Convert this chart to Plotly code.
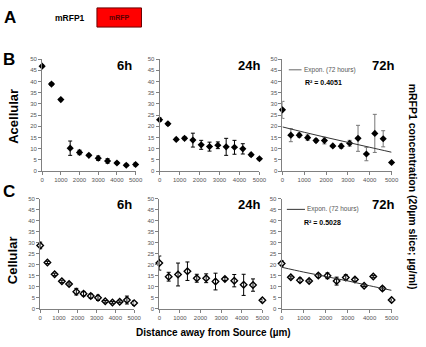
import plotly.graph_objects as go

# ---------------- data ----------------
x_b6 = [0, 500, 1000, 1500, 2000, 2500, 3000, 3500, 4000, 4500, 5000]
y_b6 = [46.8, 38.8, 31.9, 10.2, 8.3, 7.0, 5.7, 4.5, 3.6, 2.6, 2.9]
e_b6 = [0.6, 0.6, 0.5, 3.2, 1.0, 0.5, 1.0, 1.0, 0.5, 0.5, 0.7]

x_b24 = [0, 417, 833, 1250, 1667, 2083, 2500, 2917, 3333, 3750, 4167, 4583, 5000]
y_b24 = [22.9, 21.1, 14.1, 14.6, 13.8, 11.7, 10.9, 11.5, 10.8, 10.6, 9.9, 7.3, 5.5]
e_b24 = [0.8, 0.6, 0.5, 0.6, 3.1, 2.0, 2.0, 1.5, 3.8, 3.1, 2.3, 0.6, 0.5]

x_b72 = [0, 385, 769, 1154, 1538, 1923, 2308, 2692, 3077, 3462, 3846, 4231, 4615, 5000]
y_b72 = [27.3, 16.0, 16.0, 14.9, 13.6, 13.6, 11.2, 11.1, 12.4, 14.6, 7.6, 16.8, 14.4, 3.8]
e_b72 = [3.8, 2.9, 0.9, 1.2, 0.8, 1.5, 0.5, 1.0, 1.3, 5.8, 3.0, 8.5, 3.6, 0.5]
trend_x_b72 = [0, 1000, 2000, 3000, 4000, 5000]
trend_y_b72 = [19.7, 17.3, 15.0, 12.8, 10.6, 8.4]

x_c6 = [0, 385, 769, 1154, 1538, 1923, 2308, 2692, 3077, 3462, 3846, 4231, 4615, 5000]
y_c6 = [28.7, 21.0, 15.6, 12.4, 11.2, 7.7, 6.8, 5.7, 4.9, 3.3, 2.8, 3.1, 3.9, 2.5]
e_c6 = [1.5, 0.5, 0.5, 0.5, 0.5, 1.5, 1.0, 1.0, 1.2, 0.4, 0.4, 0.4, 1.8, 1.0]

x_c24 = [0, 455, 909, 1364, 1818, 2273, 2727, 3182, 3636, 4091, 4545, 5000]
y_c24 = [20.7, 14.5, 15.5, 17.0, 13.8, 13.8, 12.3, 13.5, 12.7, 10.8, 10.7, 3.8]
e_c24 = [3.2, 2.0, 5.2, 4.2, 1.8, 2.0, 3.8, 0.7, 2.8, 4.8, 2.8, 0.5]

x_c72 = [0, 417, 833, 1250, 1667, 2083, 2500, 2917, 3333, 3750, 4167, 4583, 5000]
y_c72 = [20.5, 14.3, 12.9, 12.6, 15.0, 14.9, 12.5, 14.1, 13.2, 10.4, 14.6, 9.1, 3.9]
e_c72 = [1.2, 0.5, 1.0, 0.5, 0.8, 1.3, 1.8, 1.3, 0.8, 0.4, 0.4, 0.8, 0.5]
trend_x_c72 = [0, 1000, 2000, 3000, 4000, 5000]
trend_y_c72 = [18.8, 16.6, 14.6, 12.6, 10.4, 8.3]

x_ticks = [0, 1000, 2000, 3000, 4000, 5000]
y_ticks = [0, 5, 10, 15, 20, 25, 30, 35, 40, 45, 50]
panel_titles = ["6h", "24h", "72h"]
r2_b = "R² = 0.4051"
r2_c = "R² = 0.5028"
trend_name = "Expon. (72 hours)"

W, H = 426, 347
FONT = "Arial, Liberation Sans, sans-serif"

def px(x):
    return x / W

def py(y):
    return 1 - y / H

fig = go.Figure()

# panel geometry (pixels): (x0, x1, ytop, ybottom)
panels = [
    ("x", "y", 41, 136.5, 57, 171),
    ("x2", "y2", 161, 263, 57, 171),
    ("x3", "y3", 286.5, 398, 57, 171),
    ("x4", "y4", 39, 135, 199, 311),
    ("x5", "y5", 160.7, 266, 199, 311),
    ("x6", "y6", 285.7, 398, 199, 311),
]

series = [
    (x_b6, y_b6, e_b6, "diamond", "black"),
    (x_b24, y_b24, e_b24, "diamond", "black"),
    (x_b72, y_b72, e_b72, "diamond", "#777777"),
    (x_c6, y_c6, e_c6, "diamond-open", "black"),
    (x_c24, y_c24, e_c24, "diamond-open", "black"),
    (x_c72, y_c72, e_c72, "diamond-open", "black"),
]

for i, ((xa, ya, x0, x1, yt, yb), (xs, ys, es, sym, ecol)) in enumerate(zip(panels, series)):
    fig.add_trace(go.Scatter(
        x=xs, y=ys, mode="markers", xaxis=xa, yaxis=ya, showlegend=False,
        marker=dict(symbol=sym, size=5 if "open" in sym else 5.5, color="black",
                    line=dict(color="black", width=1.4 if "open" in sym else 0)),
        error_y=dict(type="data", array=es, visible=True, color=ecol,
                     thickness=1, width=2),
        cliponaxis=False,
    ))
    n = "" if i == 0 else str(i + 1)
    common = dict(showline=True, linecolor="#808080", linewidth=1,
                  ticks="outside", ticklen=3, tickcolor="#808080",
                  showgrid=False, zeroline=False,
                  tickfont=dict(size=6, color="#555555", family=FONT))
    fig.layout["xaxis" + n] = dict(common, domain=[px(x0), px(x1)], range=[0, 5000],
                                   tickvals=x_ticks, anchor=ya)
    fig.layout["yaxis" + n] = dict(common, domain=[py(yb), py(yt)], range=[0, 50],
                                   tickvals=y_ticks, anchor=xa)

# trendlines
fig.add_trace(go.Scatter(x=trend_x_b72, y=trend_y_b72, mode="lines", xaxis="x3", yaxis="y3",
                         line=dict(color="#333333", width=1, shape="spline"),
                         name=trend_name, showlegend=False))
fig.add_trace(go.Scatter(x=trend_x_c72, y=trend_y_c72, mode="lines", xaxis="x6", yaxis="y6",
                         line=dict(color="#333333", width=1, shape="spline"),
                         name=trend_name, showlegend=False))

ann = []
def text(x, y, s, size, color="black", bold=True, angle=0, xanchor="center"):
    ann.append(dict(x=px(x), y=py(y), xref="paper", yref="paper", text=("<b>%s</b>" % s) if bold else s,
                    showarrow=False, textangle=angle, xanchor=xanchor, yanchor="middle",
                    font=dict(size=size, color=color, family=FONT)))

text(8, 15, "A", 17)
text(69, 15, "mRFP1", 8.5)
text(7, 57, "B", 17)
text(7, 192, "C", 17)
for cx, t in zip([125.5, 252.5, 389], panel_titles):
    text(cx, 63.5, t, 13)
    text(cx, 205.5, t, 13)
text(328, 81, r2_b, 7)
text(327, 223, r2_c, 7)
# manual legend entries for trendlines
text(306.5, 68, trend_name, 6.5, color="#555555", bold=False, xanchor="left")
text(310, 210, trend_name, 6.5, color="#555555", bold=False, xanchor="left")
text(11, 115, "Acellular", 13, angle=-90)
text(11, 262, "Cellular", 13, angle=-90)
text(420, 187, "mRFP1 concentration (20µm slice; µg/ml)", 10.5, angle=90)
text(216, 335, "Distance away from Source (µm)", 10)
text(120, 15, "mRFP", 7, color="#5a0000")

shapes = [
    dict(type="rect", xref="paper", yref="paper", x0=px(97), x1=px(142.5),
         y0=py(24.5), y1=py(5), fillcolor="#ff0000", line=dict(color="#6b0000", width=1),
         layer="below"),
    dict(type="line", xref="paper", yref="paper", x0=px(293), x1=px(306),
         y0=py(68), y1=py(68), line=dict(color="#666666", width=1)),
    dict(type="line", xref="paper", yref="paper", x0=px(291), x1=px(309.5),
         y0=py(210), y1=py(210), line=dict(color="#333333", width=1)),
]

fig.update_layout(
    annotations=ann,
    shapes=shapes,
    showlegend=False,
    width=W, height=H, margin=dict(l=0, r=0, t=0, b=0),
    paper_bgcolor="white", plot_bgcolor="white",
    font=dict(family=FONT),
)

fig.write_html("out.html")
